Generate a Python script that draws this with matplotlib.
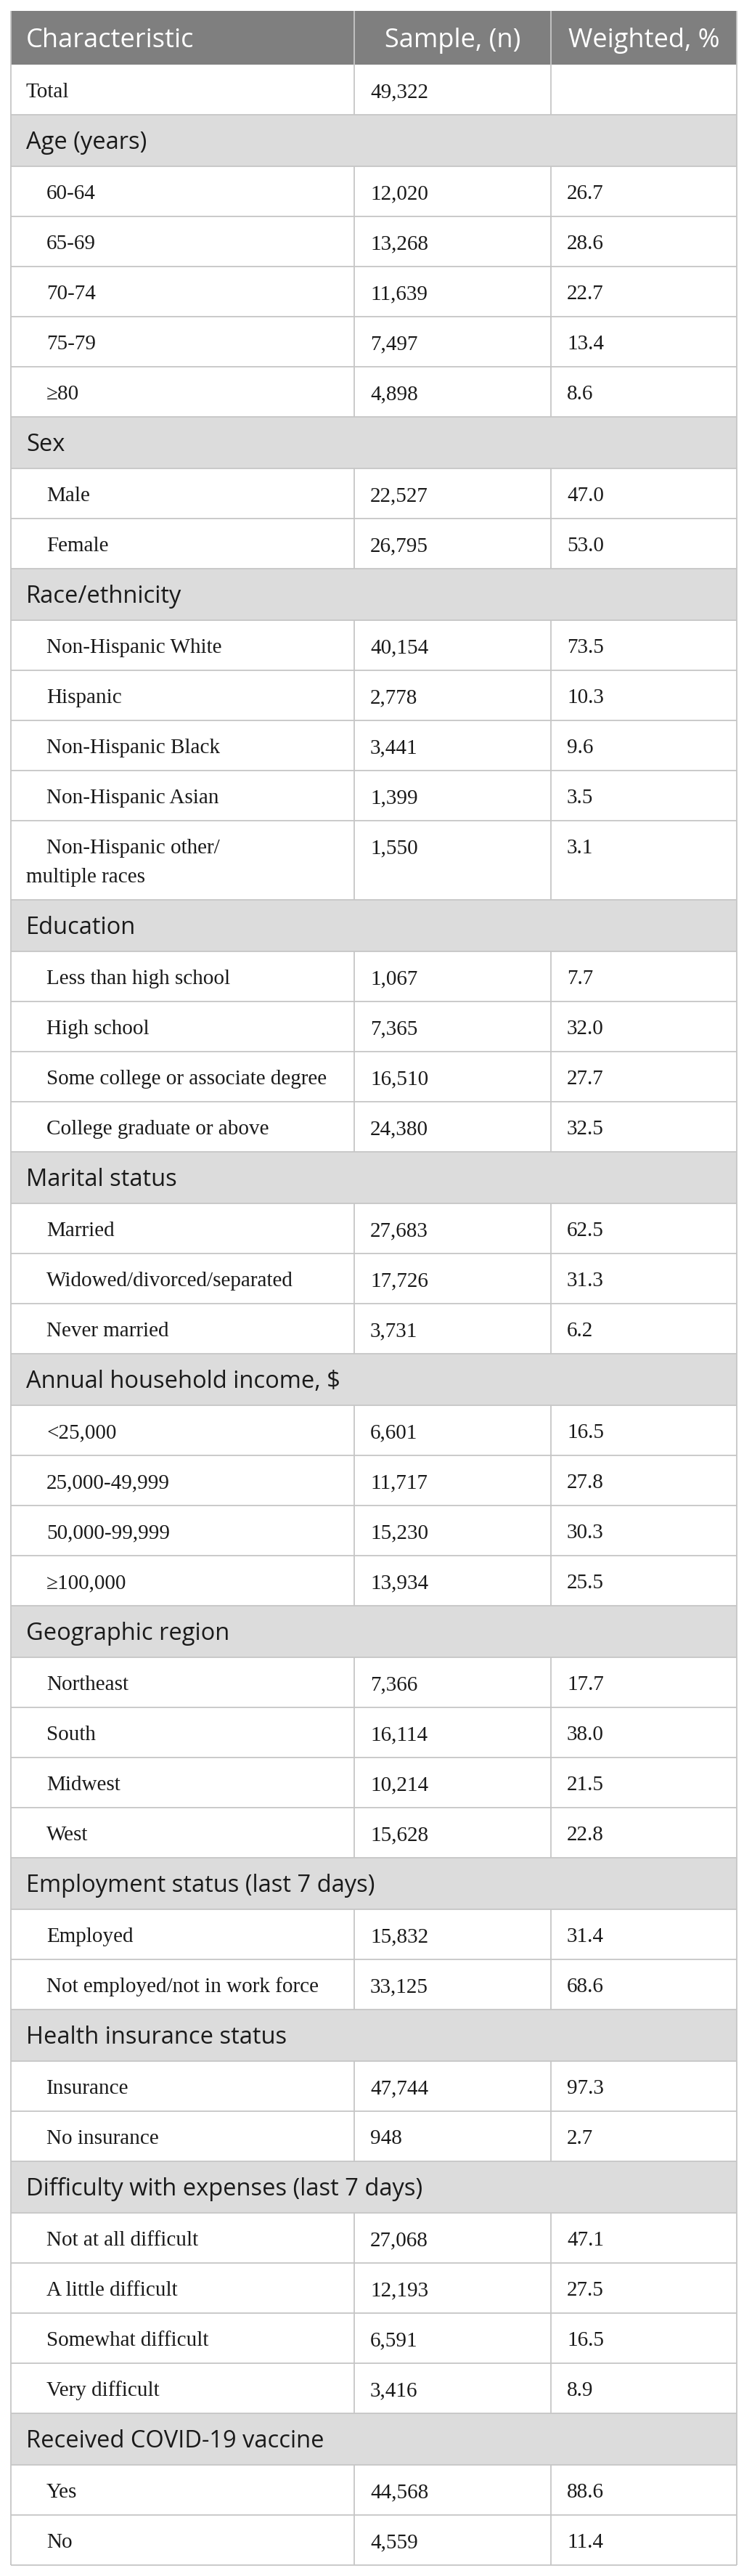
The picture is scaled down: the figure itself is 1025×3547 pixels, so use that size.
import matplotlib
matplotlib.use("Agg")
import matplotlib.pyplot as plt
from matplotlib.patches import Rectangle

# 1. table data
col_headers = ["Characteristic", "Sample, (n)", "Weighted, %"]
total_n = "49,322"

groups = [
    "Age (years)", "Sex", "Race/ethnicity", "Education", "Marital status",
    "Annual household income, $", "Geographic region",
    "Employment status (last 7 days)", "Health insurance status",
    "Difficulty with expenses (last 7 days)", "Received COVID-19 vaccine",
]

row_group = [0] * 5 + [1] * 2 + [2] * 5 + [3] * 4 + [4] * 3 + [5] * 4 + [6] * 4 + [7] * 2 + [8] * 2 + [9] * 4 + [10] * 2

row_labels = [
    "60-64", "65-69", "70-74", "75-79", "\u226580",
    "Male", "Female",
    "Non-Hispanic White", "Hispanic", "Non-Hispanic Black", "Non-Hispanic Asian",
    "Non-Hispanic other/\nmultiple races",
    "Less than high school", "High school", "Some college or associate degree",
    "College graduate or above",
    "Married", "Widowed/divorced/separated", "Never married",
    "<25,000", "25,000-49,999", "50,000-99,999", "\u2265100,000",
    "Northeast", "South", "Midwest", "West",
    "Employed", "Not employed/not in work force",
    "Insurance", "No insurance",
    "Not at all difficult", "A little difficult", "Somewhat difficult", "Very difficult",
    "Yes", "No",
]

sample_n = [
    "12,020", "13,268", "11,639", "7,497", "4,898",
    "22,527", "26,795",
    "40,154", "2,778", "3,441", "1,399", "1,550",
    "1,067", "7,365", "16,510", "24,380",
    "27,683", "17,726", "3,731",
    "6,601", "11,717", "15,230", "13,934",
    "7,366", "16,114", "10,214", "15,628",
    "15,832", "33,125",
    "47,744", "948",
    "27,068", "12,193", "6,591", "3,416",
    "44,568", "4,559",
]

weighted_pct = [
    "26.7", "28.6", "22.7", "13.4", "8.6",
    "47.0", "53.0",
    "73.5", "10.3", "9.6", "3.5", "3.1",
    "7.7", "32.0", "27.7", "32.5",
    "62.5", "31.3", "6.2",
    "16.5", "27.8", "30.3", "25.5",
    "17.7", "38.0", "21.5", "22.8",
    "31.4", "68.6",
    "97.3", "2.7",
    "47.1", "27.5", "16.5", "8.9",
    "88.6", "11.4",
]

# 2. layout (pixels)
W, H = 1025, 3547
x0, x1, x2, x3 = 15, 488, 759, 1015
top = 15
h_head, h_row, h_group, h_line = 74, 69, 71, 40

head_bg = "#7f7f7f"
group_bg = "#dcdcdc"
line_c = "#c6c6c6"
txt_c = "#1a1a1a"
sans = ["Open Sans", "DejaVu Sans"]
serif = ["Liberation Serif", "DejaVu Serif"]
fs_head = 26
fs_group = 23.5
fs_serif = 21

fig = plt.figure(figsize=(W / 100, H / 100), dpi=100)
ax = fig.add_axes([0, 0, 1, 1])
ax.set_xlim(0, W)
ax.set_ylim(H, 0)
ax.axis("off")


def hline(y):
    ax.plot([x0, x3], [y, y], color=line_c, lw=1.3, solid_capstyle="butt")


def vlines(ya, yb, inner=True):
    xs = [x0, x1, x2, x3] if inner else [x0, x3]
    for x in xs:
        ax.plot([x, x], [ya, yb], color=line_c, lw=1.3, solid_capstyle="butt")


# header
y = top
ax.add_patch(Rectangle((x0, y), x3 - x0, h_head, color=head_bg, lw=0))
ax.text(x0 + 21, y + 50, col_headers[0], color="white", fontsize=fs_head, family=sans, va="baseline")
ax.text((x1 + x2) / 2, y + 50, col_headers[1], color="white", fontsize=fs_head, family=sans, va="baseline", ha="center")
ax.text((x2 + x3) / 2, y + 50, col_headers[2], color="white", fontsize=fs_head, family=sans, va="baseline", ha="center")
vlines(y, y + h_head)
y += h_head

# total row
ax.text(x0 + 21, y + 45, "Total", color=txt_c, fontsize=fs_serif, family=serif, va="baseline")
ax.text(x1 + 22, y + 45, total_n, color=txt_c, fontsize=fs_serif, family=serif, va="baseline")
vlines(y, y + h_row)
y += h_row
hline(y)

# groups and rows
for g, name in enumerate(groups):
    ax.add_patch(Rectangle((x0, y), x3 - x0, h_group, color=group_bg, lw=0))
    ax.text(x0 + 21, y + 47, name, color=txt_c, fontsize=fs_group, family=sans, va="baseline")
    vlines(y, y + h_group, inner=False)
    y += h_group
    hline(y)
    for i, grp in enumerate(row_group):
        if grp != g:
            continue
        lines = row_labels[i].split("\n")
        rh = h_row + h_line * (len(lines) - 1)
        for k, ln in enumerate(lines):
            indent = 49 if k == 0 else 21
            ax.text(x0 + indent, y + 45 + k * h_line, ln, color=txt_c, fontsize=fs_serif, family=serif, va="baseline")
        ax.text(x1 + 22, y + 45, sample_n[i], color=txt_c, fontsize=fs_serif, family=serif, va="baseline")
        ax.text(x2 + 22, y + 45, weighted_pct[i], color=txt_c, fontsize=fs_serif, family=serif, va="baseline")
        vlines(y, y + rh)
        y += rh
        hline(y)

fig.savefig("out.png", dpi=100, facecolor="white")
